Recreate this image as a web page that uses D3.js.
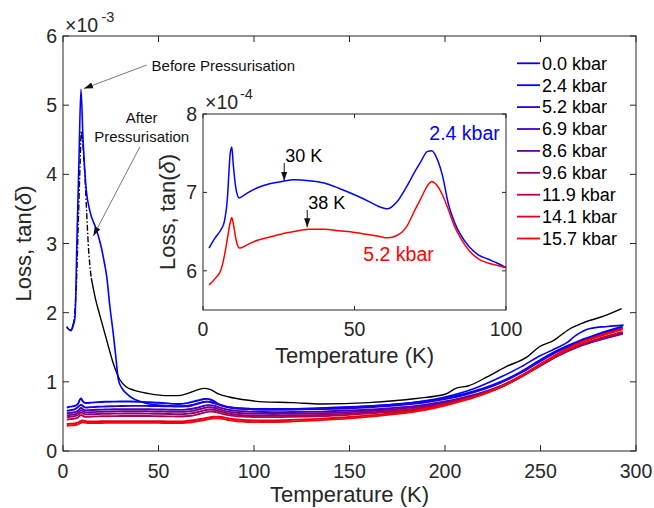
<!DOCTYPE html>
<html><head><meta charset="utf-8">
<script src="https://cdn.jsdelivr.net/npm/d3@7"></script>
<style>
html,body{margin:0;padding:0;background:#fff;}
svg{display:block;font-family:"Liberation Sans",Arial,Helvetica,sans-serif;}
</style></head>
<body>
<svg id="c" width="654" height="508"></svg>
<script>
// ---------------- DATA (loss in units of 1e-3) ----------------
const legendLabels = ["0.0 kbar","2.4 kbar","5.2 kbar","6.9 kbar","8.6 kbar","9.6 kbar","11.9 kbar","14.1 kbar","15.7 kbar"];

// 0.0 kbar (before pressurisation)
const temp0 = [1.9,3,4.2,5.2,6.3,7.3,8.4,9.4,10.5,12.2,14,17.5,20,21.8,22.9,24.5,26.3,27.7,29,31,33.3,36,40,47,55,62,68,72,75,79,84,90,100,120,140,160,180,200,215,230,240,250,257,264,268,276,285,293.5];
const loss0 = [1.79,1.76,1.74,1.80,1.94,3.05,4.25,5.23,4.50,3.77,3.48,3.20,2.95,2.70,2.52,2.10,1.70,1.35,1.03,0.90,0.83,0.77,0.72,0.67,0.655,0.65,0.67,0.70,0.715,0.69,0.65,0.62,0.61,0.61,0.63,0.65,0.69,0.78,0.90,1.08,1.22,1.38,1.47,1.57,1.66,1.77,1.80,1.82];

// after pressurisation (black)
const tempAfter = [2,3,4.2,5.2,6,7,8,9,9.6,10.5,11.4,12.3,13.2,14.8,17,19.4,22.9,26.3,29.8,33,37,45,55,60,65,70,74,77,81,87,95,105,120,135,160,185,200,206,212,222,232,243,249,257,265,272,283,292.5];
const lossAfter = [1.80,1.76,1.75,1.82,1.95,2.40,3.30,4.20,4.62,4.40,4.01,3.50,3.00,2.50,2.20,1.95,1.60,1.27,1.03,0.93,0.88,0.83,0.80,0.80,0.83,0.88,0.905,0.89,0.83,0.78,0.74,0.71,0.70,0.68,0.70,0.76,0.82,0.91,0.94,1.07,1.22,1.36,1.50,1.60,1.76,1.85,1.95,2.06];

// common temperature grid for pressurised runs
const tempP = [2,4,6,7,8,9,9.5,10,11,12,13,15,18,22,26,30,35,40,45,50,55,58,61,64,67,70,72,74,75.5,77,79,81,83,85,88,91,94,97,100,110,120,135,150,170,190,200,210,220,230,240,250,260,270,280,293];

const loss2_4 = [0.629,0.642,0.653,0.662,0.690,0.750,0.758,0.735,0.702,0.693,0.695,0.700,0.706,0.711,0.714,0.716,0.715,0.712,0.705,0.697,0.688,0.682,0.679,0.688,0.706,0.727,0.740,0.752,0.753,0.745,0.722,0.685,0.662,0.646,0.630,0.620,0.615,0.610,0.604,0.600,0.602,0.612,0.630,0.665,0.720,0.765,0.825,0.905,1.010,1.150,1.320,1.470,1.590,1.690,1.800];
const loss5_2 = [0.582,0.590,0.602,0.618,0.640,0.662,0.668,0.660,0.638,0.629,0.630,0.634,0.639,0.643,0.647,0.650,0.653,0.653,0.651,0.649,0.646,0.644,0.642,0.645,0.655,0.678,0.693,0.708,0.714,0.710,0.697,0.678,0.657,0.642,0.625,0.615,0.610,0.607,0.604,0.600,0.600,0.605,0.618,0.650,0.705,0.750,0.810,0.890,0.995,1.135,1.300,1.450,1.570,1.670,1.780];
const loss6_9 = [0.545,0.552,0.560,0.568,0.585,0.615,0.625,0.615,0.595,0.588,0.589,0.592,0.596,0.600,0.603,0.605,0.606,0.606,0.604,0.601,0.598,0.596,0.595,0.598,0.607,0.625,0.640,0.655,0.662,0.663,0.655,0.638,0.620,0.605,0.590,0.580,0.574,0.570,0.567,0.562,0.563,0.570,0.585,0.615,0.670,0.715,0.775,0.850,0.950,1.090,1.250,1.400,1.520,1.610,1.700];
const loss8_6 = [0.515,0.522,0.530,0.537,0.552,0.580,0.590,0.582,0.564,0.558,0.559,0.562,0.566,0.569,0.572,0.574,0.575,0.575,0.573,0.571,0.568,0.566,0.565,0.568,0.577,0.594,0.608,0.622,0.630,0.632,0.626,0.610,0.592,0.577,0.562,0.552,0.546,0.542,0.540,0.536,0.538,0.546,0.562,0.595,0.652,0.700,0.762,0.840,0.940,1.080,1.240,1.390,1.510,1.600,1.695];
const loss9_6 = [0.490,0.496,0.503,0.510,0.524,0.550,0.559,0.552,0.535,0.529,0.530,0.532,0.535,0.538,0.540,0.541,0.542,0.542,0.540,0.538,0.535,0.533,0.532,0.535,0.544,0.560,0.574,0.588,0.597,0.600,0.596,0.582,0.565,0.550,0.535,0.525,0.519,0.515,0.513,0.510,0.513,0.522,0.540,0.575,0.635,0.685,0.750,0.830,0.935,1.075,1.235,1.390,1.515,1.605,1.705];
const loss11_9 = [0.455,0.461,0.468,0.475,0.488,0.512,0.520,0.514,0.499,0.494,0.495,0.497,0.500,0.502,0.504,0.505,0.506,0.506,0.505,0.503,0.501,0.500,0.499,0.502,0.510,0.526,0.540,0.555,0.565,0.570,0.568,0.556,0.540,0.526,0.512,0.503,0.497,0.494,0.492,0.490,0.494,0.505,0.525,0.562,0.625,0.678,0.745,0.826,0.932,1.075,1.238,1.395,1.525,1.620,1.720];
const loss14_1 = [0.390,0.395,0.400,0.405,0.413,0.428,0.436,0.443,0.440,0.430,0.428,0.428,0.429,0.430,0.431,0.432,0.432,0.432,0.431,0.430,0.429,0.429,0.429,0.432,0.440,0.452,0.462,0.472,0.480,0.488,0.495,0.497,0.492,0.482,0.466,0.455,0.448,0.444,0.442,0.443,0.450,0.468,0.492,0.540,0.612,0.670,0.742,0.828,0.940,1.088,1.258,1.420,1.560,1.660,1.770];
const loss15_7 = [0.365,0.370,0.375,0.380,0.388,0.402,0.410,0.418,0.415,0.406,0.404,0.404,0.405,0.406,0.407,0.408,0.408,0.408,0.407,0.406,0.405,0.405,0.405,0.408,0.416,0.428,0.438,0.448,0.456,0.464,0.471,0.473,0.468,0.458,0.442,0.431,0.424,0.420,0.418,0.420,0.428,0.447,0.472,0.522,0.597,0.658,0.732,0.820,0.933,1.082,1.250,1.412,1.550,1.650,1.760];

const pressurisedLoss = [loss2_4, loss5_2, loss6_9, loss8_6, loss9_6, loss11_9, loss14_1, loss15_7];

const xTicksMain = [0,50,100,150,200,250,300];
const yTicksMain = [0,1,2,3,4,5,6];
const xTicksInset = [0,50,100];
const yTicksInset = [6,7,8];

// annotation anchor points (data units)
const beforeArrow = {tail:[43.8,5.58], head:[11.0,5.24], text:[46.4,5.50]};
const afterArrow = {tail:[40.3,4.40], head:[15.9,3.11], text:[41.2,4.74]};
const insetMarks = [{label:"30 K", T:26.8, from:7.375, to:7.15},{label:"38 K", T:34.4, from:6.775, to:6.555}];
const insetLabels = [{label:"2.4 kbar", T:74.7, v:7.67},{label:"5.2 kbar", T:52.9, v:6.12}];

// ---------------- STYLE ----------------
const colors = ["#0000ff","#0000ff","#2400db","#4900b6","#6d0092","#92006d","#b60049","#db0024","#ff0000"];
const axisColor = "#262626";
const FONT_TICK = 19.5, FONT_LABEL = 22;

const svg = d3.select("#c");
const x = d3.scaleLinear([0,300],[63,636]);
const y = d3.scaleLinear([0,6],[451,36]);
const xi = d3.scaleLinear([0,100],[203,506]);
const yi = d3.scaleLinear([5.5,8],[310,114]);

svg.append("defs").append("clipPath").attr("id","clipMain")
  .append("rect").attr("x",63).attr("y",36).attr("width",573).attr("height",415);
svg.select("defs").append("clipPath").attr("id","clipInset")
  .append("rect").attr("x",203).attr("y",114).attr("width",303).attr("height",196);
const arrowDef = svg.select("defs").append("marker").attr("id","ah")
  .attr("viewBox","0 0 10 10").attr("refX",10).attr("refY",5)
  .attr("markerWidth",9).attr("markerHeight",9).attr("markerUnits","userSpaceOnUse")
  .attr("orient","auto");
arrowDef.append("path").attr("d","M0,1.5 L10,5 L0,8.5 Z").attr("fill","#111");

function axesBox(g, xs, ys, xt, yt, tickLen){
  const [x0,x1] = xs.range(), [y0,y1] = ys.range();
  g.append("rect").attr("x",x0).attr("y",y1).attr("width",x1-x0).attr("height",y0-y1)
    .attr("fill","none").attr("stroke",axisColor).attr("stroke-width",1);
  xt.forEach(t=>{
    const px = xs(t);
    g.append("line").attr("x1",px).attr("x2",px).attr("y1",y0).attr("y2",y0-tickLen).attr("stroke",axisColor);
    g.append("line").attr("x1",px).attr("x2",px).attr("y1",y1).attr("y2",y1+tickLen).attr("stroke",axisColor);
  });
  yt.forEach(t=>{
    const py = ys(t);
    g.append("line").attr("x1",x0).attr("x2",x0+tickLen).attr("y1",py).attr("y2",py).attr("stroke",axisColor);
    g.append("line").attr("x1",x1).attr("x2",x1-tickLen).attr("y1",py).attr("y2",py).attr("stroke",axisColor);
  });
}

// ---------------- MAIN AXES ----------------
const main = svg.append("g");
const curves = main.append("g").attr("clip-path","url(#clipMain)");
const line = d3.line().curve(d3.curveMonotoneX);

function mkPts(ts, vs, xs, ys, f=1){ return ts.map((t,i)=>[xs(t), ys(vs[i]*f)]); }

// black, after pressurisation: dash-dot around the peak, solid elsewhere
const blackPts = tempAfter.map((t,i)=>({t, v:lossAfter[i]}));
const solidA = blackPts.filter(d=>d.t<=5.2), dashB = blackPts.filter(d=>d.t>=5.2 && d.t<=14.8), solidC = blackPts.filter(d=>d.t>=14.8);
[solidA, solidC].forEach(seg=>{
  curves.append("path").attr("d", line(seg.map(d=>[x(d.t), y(d.v)])))
    .attr("fill","none").attr("stroke","#000").attr("stroke-width",1.4);
});
curves.append("path").attr("d", line(dashB.map(d=>[x(d.t), y(d.v)])))
  .attr("fill","none").attr("stroke","#000").attr("stroke-width",1.4).attr("stroke-dasharray","6,2,1.5,2");

// 0.0 kbar
curves.append("path").attr("d", line(mkPts(temp0, loss0, x, y)))
  .attr("fill","none").attr("stroke",colors[0]).attr("stroke-width",1.6);
// pressurised runs
pressurisedLoss.forEach((vals,i)=>{
  curves.append("path").attr("d", line(mkPts(tempP, vals, x, y)))
    .attr("fill","none").attr("stroke",colors[i+1]).attr("stroke-width",1.9);
});

axesBox(main, x, y, xTicksMain, yTicksMain, 6);

// tick labels
main.selectAll(".xt").data(xTicksMain).join("text").attr("x",d=>x(d)).attr("y",478)
  .attr("text-anchor","middle").attr("font-size",FONT_TICK).attr("fill",axisColor).text(d=>d);
main.selectAll(".yt").data(yTicksMain).join("text").attr("x",57).attr("y",d=>y(d)+7)
  .attr("text-anchor","end").attr("font-size",FONT_TICK).attr("fill",axisColor).text(d=>d);
main.append("text").attr("x",65).attr("y",32).attr("font-size",FONT_TICK).attr("fill",axisColor).text("\u00d710");
main.append("text").attr("x",101.5).attr("y",22).attr("font-size",14.5).attr("fill",axisColor).text("-3");

main.append("text").attr("x",349.5).attr("y",502).attr("text-anchor","middle")
  .attr("font-size",FONT_LABEL).attr("fill",axisColor).text("Temperature (K)");
const ylab = main.append("text").attr("transform","translate(31,243.5) rotate(-90)").attr("text-anchor","middle")
  .attr("font-size",FONT_LABEL).attr("fill",axisColor);
ylab.append("tspan").text("Loss, tan(");
ylab.append("tspan").attr("font-style","italic").text("\u03b4");
ylab.append("tspan").text(")");

// annotations
function annotArrow(a){
  main.append("line").attr("x1",x(a.tail[0])).attr("y1",y(a.tail[1]))
    .attr("x2",x(a.head[0])).attr("y2",y(a.head[1]))
    .attr("stroke","#555").attr("stroke-width",0.8).attr("marker-end","url(#ah)");
}
annotArrow(beforeArrow); annotArrow(afterArrow);
main.append("text").attr("x",x(beforeArrow.text[0])).attr("y",y(beforeArrow.text[1]))
  .attr("font-size",15).attr("fill","#111").text("Before Pressurisation");
main.append("text").attr("x",x(afterArrow.text[0])).attr("y",y(afterArrow.text[1]))
  .attr("text-anchor","middle").attr("font-size",15).attr("fill","#111").text("After");
main.append("text").attr("x",x(afterArrow.text[0])).attr("y",y(afterArrow.text[1])+18.4)
  .attr("text-anchor","middle").attr("font-size",15).attr("fill","#111").text("Pressurisation");

// legend
const leg = main.append("g");
legendLabels.forEach((lab,i)=>{
  const yy = 63.3 + i*21.9;
  leg.append("line").attr("x1",517).attr("x2",540).attr("y1",yy).attr("y2",yy)
    .attr("stroke",colors[i]).attr("stroke-width",1.8);
  leg.append("text").attr("x",542).attr("y",yy+6.3).attr("font-size",18).attr("fill","#000").text(lab);
});

// ---------------- INSET ----------------
const inset = svg.append("g");
inset.append("rect").attr("x",203).attr("y",114).attr("width",303).attr("height",196).attr("fill","#fff");
const icurves = inset.append("g").attr("clip-path","url(#clipInset)");
const insetIdx = tempP.map((t,i)=>i).filter(i=>tempP[i]<=100);
icurves.append("path").attr("d", line(insetIdx.map(i=>[xi(tempP[i]), yi(loss2_4[i]*10)])))
  .attr("fill","none").attr("stroke","#0000ff").attr("stroke-width",1.5);
icurves.append("path").attr("d", line(insetIdx.map(i=>[xi(tempP[i]), yi(loss5_2[i]*10)])))
  .attr("fill","none").attr("stroke","#ff0000").attr("stroke-width",1.5);
axesBox(inset, xi, yi, xTicksInset, yTicksInset, 4);

inset.selectAll(".xti").data(xTicksInset).join("text").attr("x",d=>xi(d)).attr("y",336)
  .attr("text-anchor","middle").attr("font-size",FONT_TICK).attr("fill",axisColor).text(d=>d);
inset.selectAll(".yti").data(yTicksInset).join("text").attr("x",197).attr("y",d=>yi(d)+7)
  .attr("text-anchor","end").attr("font-size",FONT_TICK).attr("fill",axisColor).text(d=>d);
inset.append("text").attr("x",205).attr("y",109).attr("font-size",FONT_TICK).attr("fill",axisColor).text("\u00d710");
inset.append("text").attr("x",240).attr("y",99).attr("font-size",14.5).attr("fill",axisColor).text("-4");
inset.append("text").attr("x",354.5).attr("y",363).attr("text-anchor","middle")
  .attr("font-size",FONT_LABEL).attr("fill",axisColor).text("Temperature (K)");
const ylab2 = inset.append("text").attr("transform","translate(175,212) rotate(-90)").attr("text-anchor","middle")
  .attr("font-size",FONT_LABEL).attr("fill",axisColor);
ylab2.append("tspan").text("Loss, tan(");
ylab2.append("tspan").attr("font-style","italic").text("\u03b4");
ylab2.append("tspan").text(")");

insetMarks.forEach(m=>{
  inset.append("line").attr("x1",xi(m.T)).attr("x2",xi(m.T)).attr("y1",yi(m.from)).attr("y2",yi(m.to))
    .attr("stroke","#111").attr("stroke-width",1).attr("marker-end","url(#ah)");
  inset.append("text").attr("x",xi(m.T)+1).attr("y",yi(m.from)-1).attr("font-size",18).attr("fill","#000").text(m.label);
});
insetLabels.forEach((l,i)=>{
  inset.append("text").attr("x",xi(l.T)).attr("y",yi(l.v)).attr("font-size",19.5)
    .attr("fill", i===0 ? "#0000ff" : "#ff0000").text(l.label);
});
</script>
</body></html>
